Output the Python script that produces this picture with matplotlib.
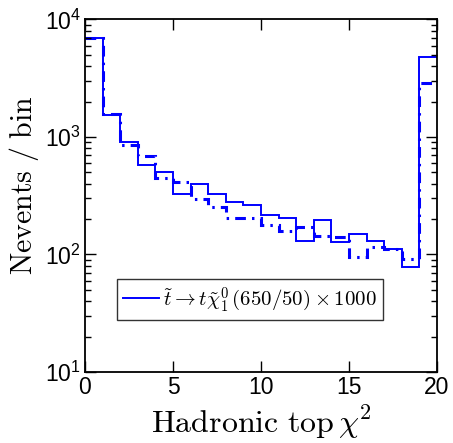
import matplotlib
matplotlib.use("Agg")
import matplotlib.pyplot as plt
import numpy as np

plt.rcParams["font.family"] = ["Liberation Sans", "DejaVu Sans"]
plt.rcParams["mathtext.fontset"] = "cm"

# histogram contents (20 bins of width 1 in chi^2)
bin_edges = np.arange(0, 21, 1)
solid_counts = [6900, 1540, 900, 575, 505, 330, 395, 325, 280, 265,
                215, 205, 131, 195, 128, 148, 131, 111, 78, 4800]
dashed_counts = [6900, 1560, 860, 690, 450, 410, 295, 252, 205, 203,
                 178, 160, 170, 145, 142, 96, 116, 111, 92, 2900]
legend_label = r"$\tilde{t}\rightarrow t\tilde{\chi}_1^0\,(650/50)\times 1000$"

fig = plt.figure(figsize=(4.53, 4.43), dpi=100)
ax = fig.add_axes([0.1876, 0.1603, 0.7771, 0.7957])

ax.stairs(dashed_counts, bin_edges, baseline=None, color=(0, 0, 1),
          linewidth=2.2, linestyle=(0, (3.5, 2, 0.8, 2)))
ax.stairs(solid_counts, bin_edges, baseline=None, color=(0, 0, 1),
          linewidth=1.4, label=legend_label)

ax.set_yscale("log")
ax.set_xlim(0, 20)
ax.set_ylim(10, 1e4)
ax.set_xticks([0, 5, 10, 15, 20])

ax.tick_params(which="both", direction="in", top=True, right=True,
               labelsize=16.5, width=1.0)
ax.tick_params(which="major", length=8, pad=3)
ax.tick_params(which="minor", length=4.5)
for sp in ax.spines.values():
    sp.set_linewidth(1.3)

ax.set_xlabel(r"$\mathrm{Hadronic\ top}\,\chi^2$", fontsize=23)
ax.set_ylabel(r"$\mathrm{Nevents\ /\ bin}$", fontsize=21.5)
ax.xaxis.set_label_coords(0.5, -0.088)
ax.yaxis.set_label_coords(-0.125, 0.53)

leg = ax.legend(loc="lower left", bbox_to_anchor=(0.091, 0.1475), fontsize=15,
                frameon=True, fancybox=False, edgecolor="black",
                handlelength=1.7, handletextpad=0.2, borderpad=0.3,
                borderaxespad=0)
leg.get_frame().set_linewidth(1.0)

fig.savefig("out.png", dpi=100)
